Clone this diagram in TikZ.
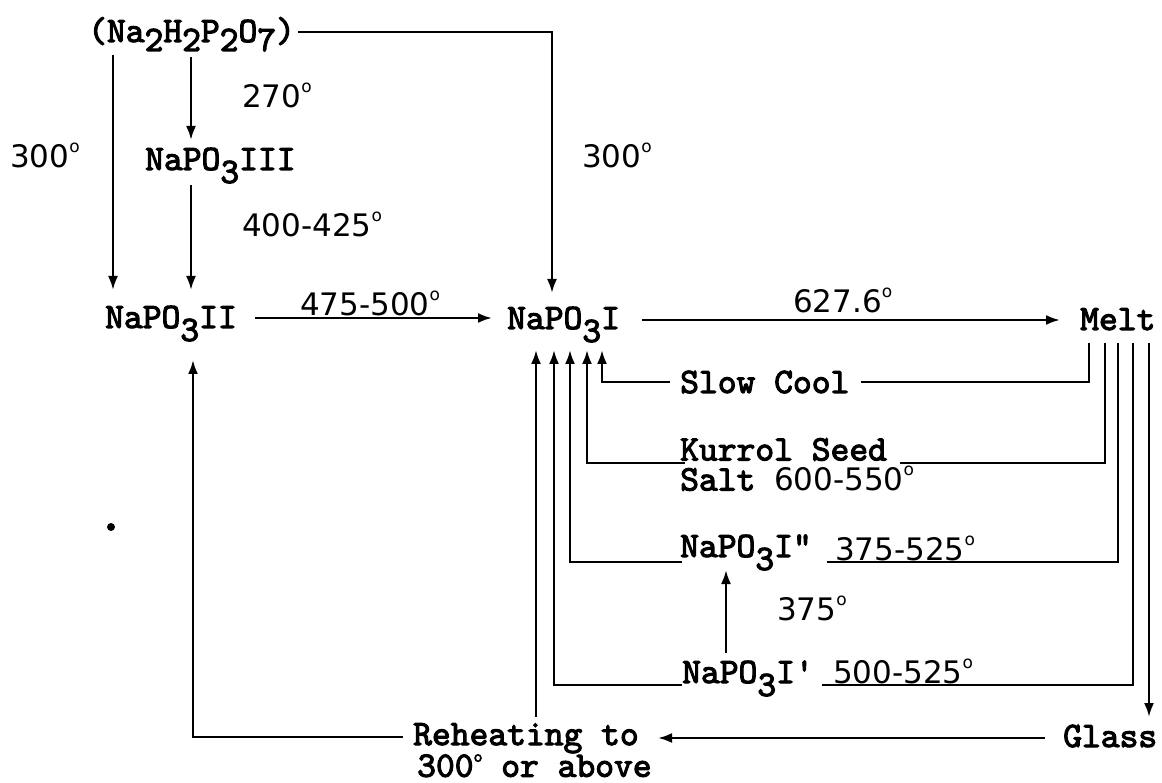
\documentclass[tikz,border=0pt]{standalone}
\usepackage{fontspec}
\newfontfamily\hwfam{DejaVu Sans}
\newfontfamily\twfam{lmmono10-regular.otf}[FakeBold=3]
\usetikzlibrary{arrows.meta}
\newcommand\twf{\twfam\fontsize{35.8}{30}\selectfont}
\newcommand\hwf{\hwfam\mdseries\fontsize{31}{30}\selectfont}
\newcommand\sba[1]{\raisebox{-9pt}{#1}}
\newcommand\sbb[1]{\raisebox{-13pt}{#1}}
\newcommand\dg{\raisebox{15pt}{\fontsize{17}{17}\selectfont o}}
\tikzset{
  tw/.style={inner sep=0pt, anchor=base west, font=\twf\bfseries},
  hw/.style={inner sep=0pt, anchor=base west, font=\hwf},
  line/.style={line width=2.4pt},
  arr/.style={line, -{Latex[length=14pt,width=10pt]}}
}
\begin{document}
\begin{tikzpicture}[x=1pt,y=-1pt]
\useasboundingbox (0,0) rectangle (1162,783);
% ---- text nodes ----
\node[tw] (na2) at (88,42) {(Na\sba{2}H\sba{2}P\sba{2}O\sba{7})};
\node[tw] (n3) at (145,170) {NaPO\sbb{3}III};
\node[tw] (n2) at (105,328) {NaPO\sbb{3}II};
\node[tw] (n1) at (507,329) {NaPO\sbb{3}I};
\node[tw] (melt) at (1080,330) {Melt};
\node[tw] (slow) at (680,393) {Slow Cool};
\node[tw, align=left, anchor=north west] (kur) at (680,438) {Kurrol Seed\\Salt {\hwf 600-550\dg}};
\node[tw] (n1pp) at (680,557) {NaPO\sbb{3}I"};
\node[hw] (t375525) at (835,560) {375-525\dg};
\node[hw] (t375) at (777,620) {375\dg};
\node[tw] (n1p) at (682,683) {NaPO\sbb{3}I'};
\node[hw] (t500525) at (833,683) {500-525\dg};
\node[tw, align=left, anchor=north west] (reh) at (413,723) {Reheating to\\\hspace{4pt}300\dg{} or above};
\node[tw] (glass) at (1063,747) {Glass};
\node[hw] (t270) at (242,108) {270\dg};
\node[hw] (t300a) at (10,168) {300\dg};
\node[hw] (t300b) at (582,168) {300\dg};
\node[hw] (t400) at (242,237) {400-425\dg};
\node[hw] (t475) at (300,316) {475-500\dg};
\node[hw] (t627) at (793,313) {627.6\dg};
\fill (111,527) circle (4);
% ---- connector points ----
\coordinate (naE) at (298,32);
\coordinate (cTR) at (552,32);
\coordinate (n1T) at (552,293);
\coordinate (naL) at (113,55);
\coordinate (n2TL) at (113,290);
\coordinate (naM) at (191,57);
\coordinate (n3T) at (191,140);
\coordinate (n3B) at (191,185);
\coordinate (n2TM) at (191,290);
\coordinate (n2E) at (255,318);
\coordinate (n1W) at (492,318);
\coordinate (n1E) at (642,320);
\coordinate (meltW) at (1060,320);
% melt outlets
\coordinate (m1) at (1089,343);
\coordinate (m2) at (1105,343);
\coordinate (m3) at (1118,343);
\coordinate (m4) at (1133,343);
\coordinate (m5) at (1149,343);
% NaPO3I inlets
\coordinate (i1) at (536,350);
\coordinate (i2) at (554,350);
\coordinate (i3) at (570,350);
\coordinate (i4) at (587,350);
\coordinate (i5) at (602,350);
% slow cool
\coordinate (sR) at (861,382);
\coordinate (sL) at (670,382);
% kurrol
\coordinate (kR) at (900,463);
\coordinate (kL) at (685,463);
% NaPO3I''
\coordinate (ppR) at (827,562);
\coordinate (ppL) at (682,562);
% NaPO3I'
\coordinate (pR) at (822,685);
\coordinate (pL) at (682,685);
\coordinate (pT) at (726,653);
\coordinate (ppB) at (726,570);
% glass / reheating
\coordinate (glT) at (1149,717);
\coordinate (glW) at (1045,738);
\coordinate (rehE) at (658,738);
\coordinate (rehT) at (536,717);
\coordinate (rehW) at (403,737);
\coordinate (rehC) at (193,737);
\coordinate (n2B) at (193,360);
% ---- connectors ----
\draw[arr] (naE) -- (cTR) -- (n1T);
\draw[arr] (naL) -- (n2TL);
\draw[arr] (naM) -- (n3T);
\draw[arr] (n3B) -- (n2TM);
\draw[arr] (n2E) -- (n1W);
\draw[arr] (n1E) -- (meltW);
\draw[line] (m1) -- (m1 |- sR) -- (sR);
\draw[arr] (sL) -- (sL -| i5) -- (i5);
\draw[line] (m2) -- (m2 |- kR) -- (kR);
\draw[arr] (kL) -- (kL -| i4) -- (i4);
\draw[line] (m3) -- (m3 |- ppR) -- (ppR);
\draw[arr] (ppL) -- (ppL -| i3) -- (i3);
\draw[line] (m4) -- (m4 |- pR) -- (pR);
\draw[arr] (pL) -- (pL -| i2) -- (i2);
\draw[arr] (pT) -- (ppB);
\draw[arr] (m5) -- (glT);
\draw[arr] (glW) -- (rehE);
\draw[arr] (rehT) -- (i1);
\draw[arr] (rehW) -- (rehC) -- (n2B);
\end{tikzpicture}
\end{document}
